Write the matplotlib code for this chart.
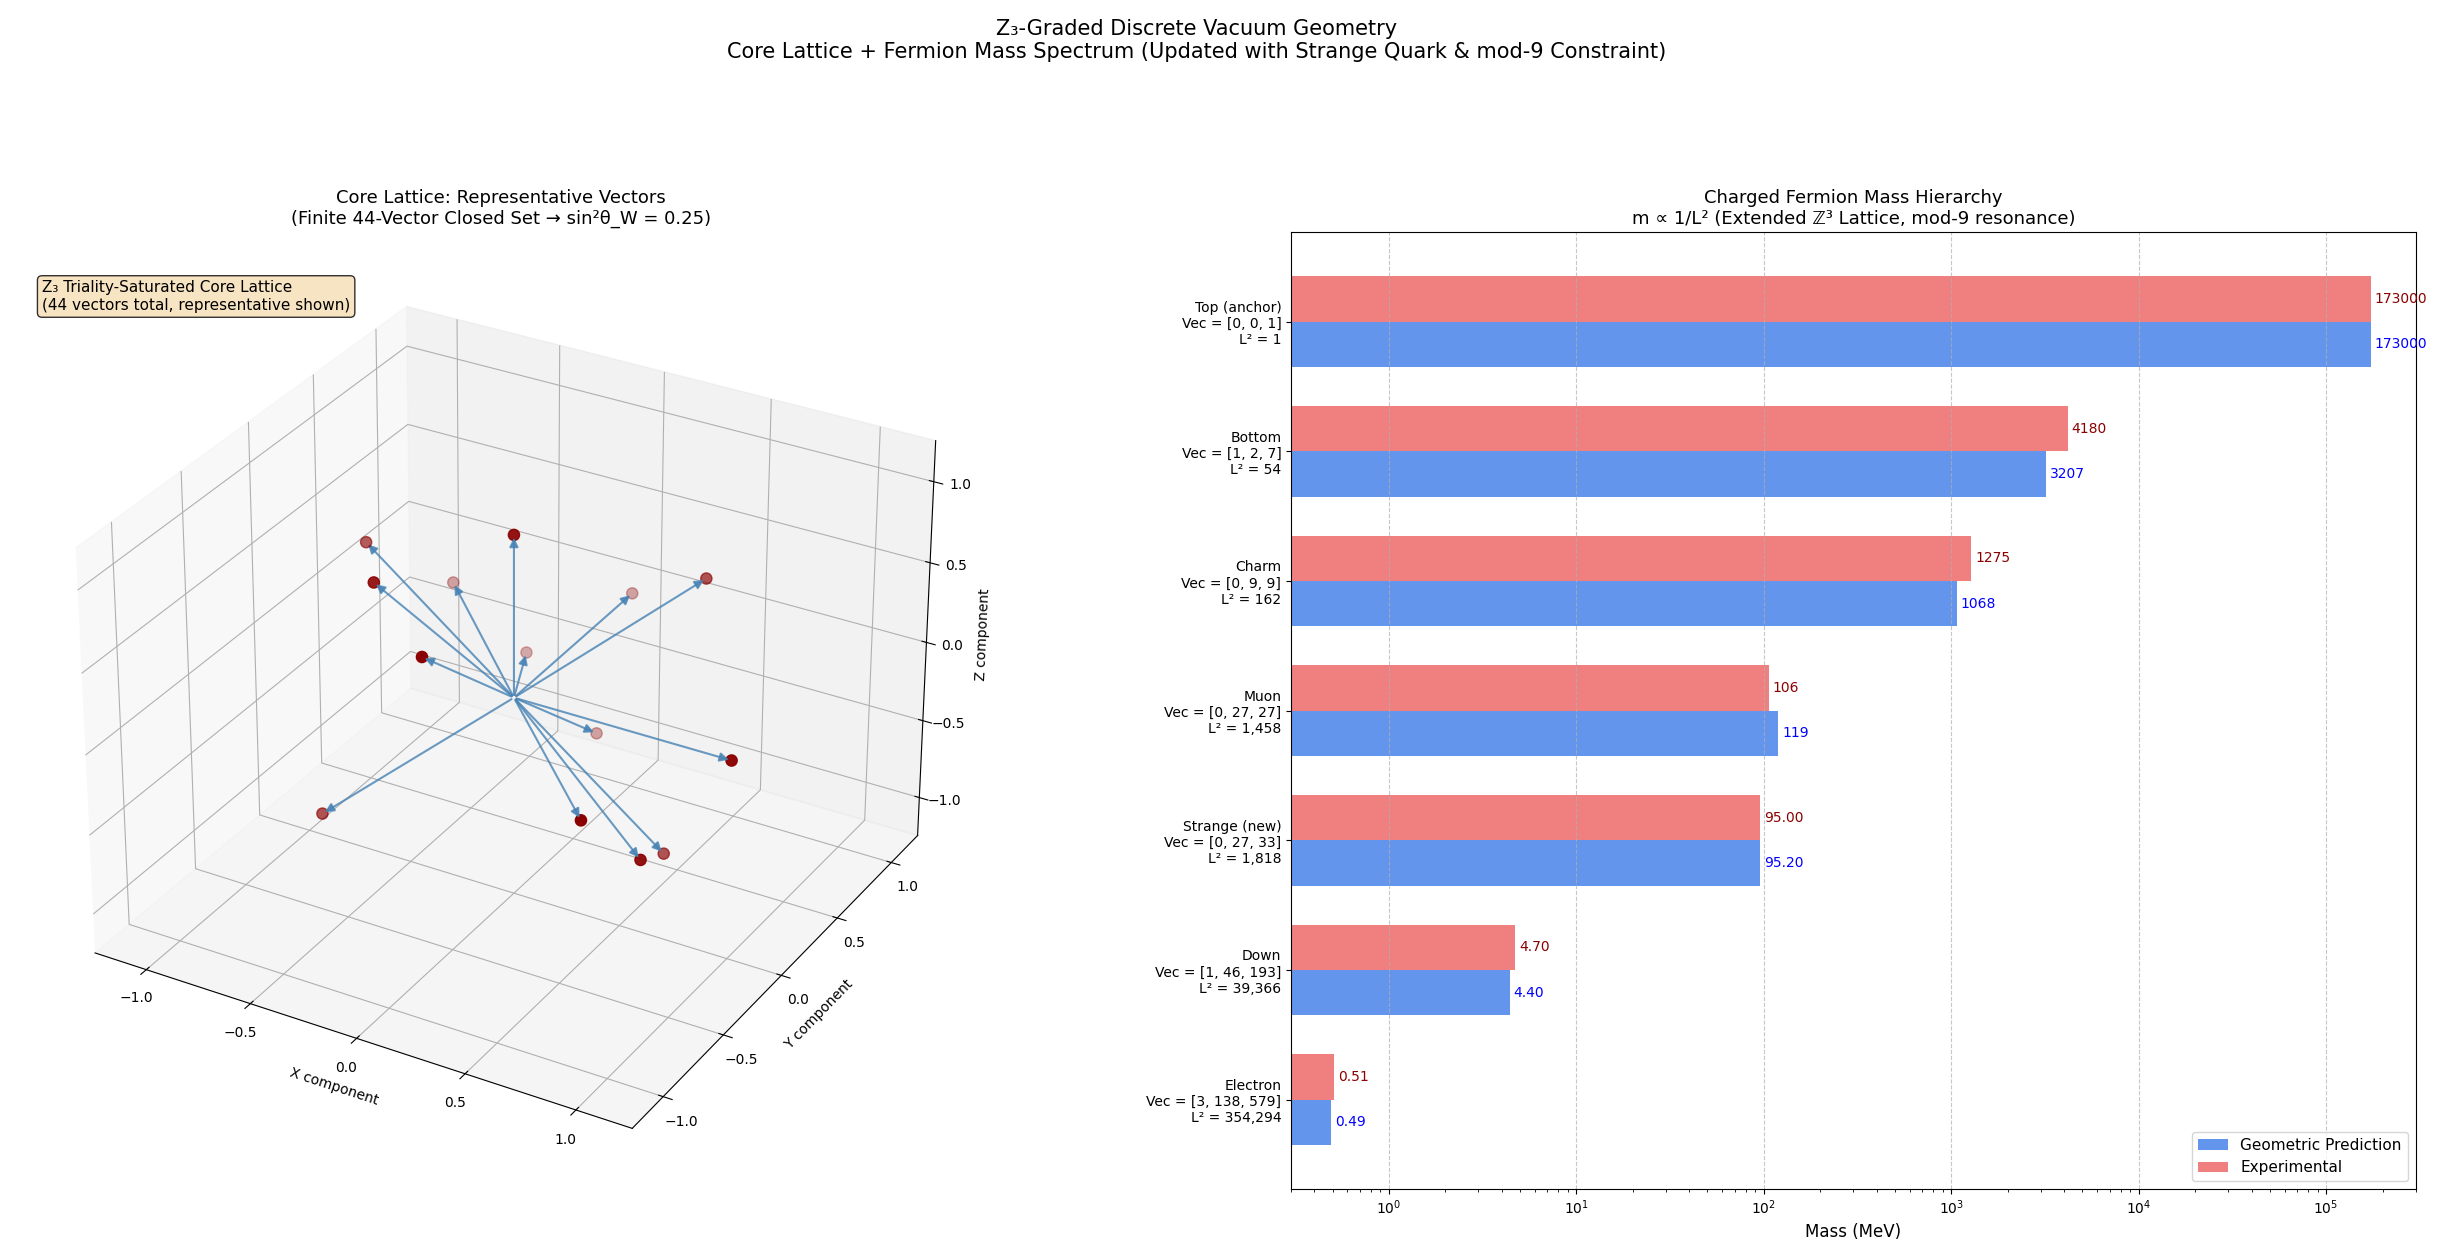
import matplotlib
matplotlib.use("Agg")
import matplotlib.pyplot as plt
import numpy as np
from matplotlib.patches import FancyArrowPatch
from mpl_toolkits.mplot3d import proj3d

vec_x = [-0.679, 0.0, -0.454, -0.51, 0.143, 0.575, -0.197, -0.149, 0.16, 1.0, -0.535, 0.559, 0.766, 0.704]
vec_y = [-0.025, 0.0, -0.334, 0.381, 0.732, 0.564, 0.445, -0.472, 0.407, 0.0, -0.626, -0.436, -0.317, -0.005]
vec_z = [0.728, 1.0, 0.757, 0.284, 0.232, 0.589, -0.084, 0.506, -0.437, 0.0, -0.512, -0.244, -0.490, -0.699]

names = ["Electron\nVec = [3, 138, 579]\nL² = 354,294",
         "Down\nVec = [1, 46, 193]\nL² = 39,366",
         "Strange (new)\nVec = [0, 27, 33]\nL² = 1,818",
         "Muon\nVec = [0, 27, 27]\nL² = 1,458",
         "Charm\nVec = [0, 9, 9]\nL² = 162",
         "Bottom\nVec = [1, 2, 7]\nL² = 54",
         "Top (anchor)\nVec = [0, 0, 1]\nL² = 1"]
geometric = [0.49, 4.40, 95.20, 119, 1068, 3207, 173000]
experimental = [0.51, 4.70, 95.00, 106, 1275, 4180, 173000]


class Arrow3D(FancyArrowPatch):
    def __init__(self, xs, ys, zs, *args, **kwargs):
        super().__init__((0, 0), (0, 0), *args, **kwargs)
        self._verts3d = xs, ys, zs

    def do_3d_projection(self, renderer=None):
        xs3d, ys3d, zs3d = self._verts3d
        xs, ys, zs = proj3d.proj_transform(xs3d, ys3d, zs3d, self.axes.M)
        self.set_positions((xs[0], ys[0]), (xs[1], ys[1]))
        return np.min(zs)


W, H = 1568.0, 797.0
fig = plt.figure(figsize=(24.42, 12.42), dpi=100)
fig.suptitle("Z₃-Graded Discrete Vacuum Geometry\nCore Lattice + Fermion Mass Spectrum (Updated with Strange Quark & mod-9 Constraint)",
             fontsize=15, x=0.4901, y=0.9845)

ax = fig.add_axes([14.7 / W, 1 - 763 / H, 614 / W, 614 / H], projection="3d")
for x, y, z in zip(vec_x, vec_y, vec_z):
    ax.add_artist(Arrow3D([0, x], [0, y], [0, z], arrowstyle="-|>", mutation_scale=13,
                          lw=1.5, color="steelblue", alpha=0.8))
ax.scatter(vec_x, vec_y, vec_z, c="darkred", s=65, zorder=5)
ax.set_xlim(-1.25, 1.25)
ax.set_ylim(-1.25, 1.25)
ax.set_zlim(-1.25, 1.25)
ax.set_xlabel("X component")
ax.set_ylabel("Y component")
ax.set_zlabel("Z component")
ax.set_title("Core Lattice: Representative Vectors\n(Finite 44-Vector Closed Set → sin²θ_W = 0.25)", fontsize=13)
ax.text2D(0.02, 0.95, "Z₃ Triality-Saturated Core Lattice\n(44 vectors total, representative shown)",
          transform=ax.transAxes, fontsize=11, va="top",
          bbox=dict(boxstyle="round", facecolor="wheat", alpha=0.8))

bx = fig.add_axes([829 / W, 1 - 763 / H, 722 / W, 614 / H])
pos = np.arange(len(names))
h = 0.35
bx.barh(pos - h / 2, geometric, h, color="cornflowerblue", label="Geometric Prediction")
bx.barh(pos + h / 2, experimental, h, color="lightcoral", label="Experimental")
bx.set_xscale("log")
bx.set_xlim(0.3, 3e5)
bx.set_ylim(-0.69, 6.69)
bx.set_yticks(pos)
bx.set_yticklabels(names, fontsize=10)
bx.set_xlabel("Mass (MeV)", fontsize=12)
bx.set_title("Charged Fermion Mass Hierarchy\nm ∝ 1/L² (Extended ℤ³ Lattice, mod-9 resonance)", fontsize=13)
bx.grid(True, axis="x", which="major", ls="--", alpha=0.7)
bx.legend(loc="lower right", fontsize=11)


def fmt(v):
    return f"{v:.0f}" if v >= 100 else f"{v:.2f}"


for p, g, e in zip(pos, geometric, experimental):
    bx.text(g * 1.05, p - h / 2, fmt(g), va="center", fontsize=10, color="blue", clip_on=False)
    bx.text(e * 1.05, p + h / 2, fmt(e), va="center", fontsize=10, color="darkred", clip_on=False)

fig.savefig("out.png", dpi=100)
